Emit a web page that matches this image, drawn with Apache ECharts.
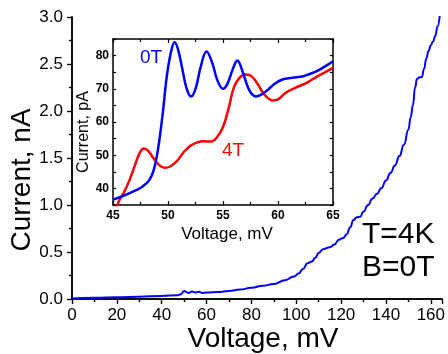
<!DOCTYPE html>
<html>
<head>
<meta charset="utf-8">
<script src="https://cdn.jsdelivr.net/npm/echarts@6/dist/echarts.min.js"></script>
<style>
  html, body { margin: 0; padding: 0; background: #fff; }
  #chart { width: 448px; height: 354px; }
</style>
</head>
<body>
<div id="chart"></div>
<script>
// main I-V curve, B=0T, T=4K (voltage mV, current nA)
const mainVoltage = [0, 10, 20, 30, 40, 47, 48.5, 50, 51, 52, 53.5, 55, 56.5, 58, 60, 65, 70, 75, 80, 85, 90, 95, 99, 101, 103, 105, 107, 108.5, 110, 112, 115, 117, 119, 121, 122.5, 124, 125.5, 127, 128.5, 130, 132, 134, 136, 138, 140, 142, 144, 146, 148, 150, 151, 152, 153, 153.8, 155, 156, 157, 158, 159, 160, 161, 162, 163, 164];
const mainCurrent = [0.005, 0.012, 0.018, 0.025, 0.033, 0.04, 0.05, 0.085, 0.075, 0.065, 0.08, 0.068, 0.078, 0.065, 0.068, 0.074, 0.085, 0.1, 0.12, 0.14, 0.16, 0.2, 0.24, 0.27, 0.32, 0.38, 0.4, 0.44, 0.49, 0.53, 0.55, 0.58, 0.63, 0.65, 0.69, 0.76, 0.84, 0.87, 0.875, 0.93, 1.0, 1.07, 1.12, 1.18, 1.26, 1.34, 1.42, 1.52, 1.64, 1.8, 1.93, 2.06, 2.25, 2.34, 2.36, 2.36, 2.45, 2.56, 2.64, 2.7, 2.74, 2.8, 2.9, 3.02];

// inset, 0T (mV, pA)
const inset0TVoltage = [45, 46, 47, 47.7, 48.3, 48.7, 49.1, 49.5, 49.9, 50.3, 50.6, 50.9, 51.3, 51.7, 52.1, 52.5, 53, 53.5, 54, 54.5, 55, 55.4, 55.9, 56.3, 56.8, 57.4, 58, 58.5, 59, 59.7, 60.4, 61.3, 62.3, 63, 63.8, 64.5, 65];
const inset0TCurrent = [36.6, 37.8, 39.3, 40.6, 42.5, 45.5, 52, 62, 74, 81.5, 84, 82, 76, 70, 67.7, 70, 77, 81.2, 78, 72.5, 70, 71.5, 76, 78.5, 75, 69.5, 67.7, 68.3, 69.5, 71.5, 72.8, 73.3, 73.8, 74.6, 75.8, 77.2, 78.3];

// inset, 4T (mV, pA)
const inset4TVoltage = [45.2, 45.6, 46, 46.5, 47, 47.4, 47.8, 48.2, 48.7, 49.2, 49.7, 50.2, 50.8, 51.4, 52, 52.6, 53.2, 53.9, 54.4, 55, 55.5, 56, 56.5, 57, 57.5, 58, 58.5, 59, 59.5, 60, 60.7, 61.5, 62.6, 63.5, 64.3, 65];
const inset4TCurrent = [33.5, 36.6, 38.8, 42.5, 47, 50.5, 52, 51.3, 49, 47, 46.2, 46.6, 48.2, 50.8, 52.8, 53.8, 54.2, 54.1, 55.2, 58.5, 64, 70.5, 73.3, 74.3, 74, 72.2, 69.5, 67.4, 66.5, 66.8, 68.8, 70.2, 71.8, 73.6, 75, 76.3];

const FONT = 'Liberation Sans, Arial, sans-serif';
const pairs = (xs, ys) => xs.map((x, i) => [x, ys[i]]);

const frameLine = { show: true, lineStyle: { color: '#000', width: 1.5 } };

const chart = echarts.init(document.getElementById('chart'), null, { renderer: 'canvas' });

const option = {
  animation: false,
  backgroundColor: '#fff',
  textStyle: { fontFamily: FONT },
  grid: [
    { left: 72, top: 17, right: 5, bottom: 55 },
    // inset
    { left: 113, top: 39, width: 220, height: 166, show: true, backgroundColor: '#fff', borderWidth: 0 },
  ],
  xAxis: [
    {
      gridIndex: 0, type: 'value', min: 0, max: 165, interval: 20,
      axisLine: frameLine,
      axisTick: { inside: false, length: 5, lineStyle: { width: 1.2 } },
      minorTick: { show: true, splitNumber: 2, length: 3, lineStyle: { color: '#000', width: 1.2 } },
      axisLabel: { fontSize: 17, color: '#000', margin: 8, showMaxLabel: false },
      splitLine: { show: false },
    },
    {
      gridIndex: 0, type: 'value', position: 'top', min: 0, max: 165, interval: 20,
      axisLine: frameLine,
      axisTick: { inside: true, length: 5, lineStyle: { width: 1.2 } },
      minorTick: { show: true, splitNumber: 2, length: 3, lineStyle: { color: '#000', width: 1.2 } },
      axisLabel: { show: false },
      splitLine: { show: false },
    },
    {
      gridIndex: 1, type: 'value', min: 45, max: 65, interval: 5,
      axisLine: frameLine,
      axisTick: { inside: true, length: 4, lineStyle: { width: 1.2 } },
      minorTick: { show: true, splitNumber: 2, length: 3, lineStyle: { color: '#000', width: 1.2 } },
      axisLabel: { fontSize: 12, fontWeight: 'bold', color: '#000', margin: 5 },
      splitLine: { show: false },
    },
    {
      gridIndex: 1, type: 'value', position: 'top', min: 45, max: 65, interval: 5,
      axisLine: frameLine,
      axisTick: { inside: true, length: 4, lineStyle: { width: 1.2 } },
      minorTick: { show: true, splitNumber: 2, length: 3, lineStyle: { color: '#000', width: 1.2 } },
      axisLabel: { show: false },
      splitLine: { show: false },
    },
  ],
  yAxis: [
    {
      gridIndex: 0, type: 'value', min: 0, max: 3, interval: 0.5,
      axisLine: frameLine,
      axisTick: { inside: false, length: 5, lineStyle: { width: 1.2 } },
      minorTick: { show: true, splitNumber: 2, length: 3, lineStyle: { color: '#000', width: 1.2 } },
      axisLabel: { fontSize: 17, color: '#000', margin: 9, formatter: (v) => v.toFixed(1) },
      splitLine: { show: false },
    },
    {
      gridIndex: 0, type: 'value', position: 'right', min: 0, max: 3, interval: 0.5,
      axisLine: frameLine,
      axisTick: { inside: true, length: 5, lineStyle: { width: 1.2 } },
      minorTick: { show: true, splitNumber: 2, length: 3, lineStyle: { color: '#000', width: 1.2 } },
      axisLabel: { show: false },
      splitLine: { show: false },
    },
    {
      // labels only on the tens, ticks every 5
      gridIndex: 1, type: 'value', min: 35, max: 85, interval: 5,
      axisLine: frameLine,
      axisTick: { inside: true, length: 3, lineStyle: { width: 1.2 } },
      axisLabel: {
        fontSize: 12, fontWeight: 'bold', color: '#000', margin: 4,
        formatter: (v) => (v % 10 === 0 ? String(v) : ''),
      },
      splitLine: { show: false },
    },
    {
      gridIndex: 1, type: 'value', position: 'right', min: 35, max: 85, interval: 5,
      axisLine: frameLine,
      axisTick: { inside: true, length: 3, lineStyle: { width: 1.2 } },
      axisLabel: { show: false },
      splitLine: { show: false },
    },
  ],
  series: [
    {
      name: 'B=0T', type: 'line', xAxisIndex: 0, yAxisIndex: 0,
      data: pairs(mainVoltage, mainCurrent),
      showSymbol: false, smooth: 0.5, smoothMonotone: 'x', clip: true,
      lineStyle: { color: '#0000ff', width: 2 },
    },
    {
      name: '0T', type: 'line', xAxisIndex: 2, yAxisIndex: 2,
      data: pairs(inset0TVoltage, inset0TCurrent),
      showSymbol: false, smooth: 0.4, clip: true, z: 5,
      lineStyle: { color: '#0000ff', width: 2.5 },
    },
    {
      name: '4T', type: 'line', xAxisIndex: 2, yAxisIndex: 2,
      data: pairs(inset4TVoltage, inset4TCurrent),
      showSymbol: false, smooth: 0.4, clip: true, z: 4,
      lineStyle: { color: '#ff0000', width: 2.5 },
    },
  ],
  graphic: [
    { type: 'text', x: 22, y: 180, rotation: Math.PI / 2,
      style: { text: 'Current, nA', font: '28px ' + FONT, fill: '#000', align: 'center', verticalAlign: 'middle' } },
    { type: 'text', x: 263, y: 339,
      style: { text: 'Voltage, mV', font: '28px ' + FONT, fill: '#000', align: 'center', verticalAlign: 'middle' } },
    { type: 'text', x: 362, y: 235,
      style: { text: 'T=4K', font: '30px ' + FONT, fill: '#000', align: 'left', verticalAlign: 'middle' } },
    { type: 'text', x: 362, y: 268,
      style: { text: 'B=0T', font: '30px ' + FONT, fill: '#000', align: 'left', verticalAlign: 'middle' } },
    { type: 'text', x: 84, y: 132, rotation: Math.PI / 2, z: 10,
      style: { text: 'Current, pA', font: '16px ' + FONT, fill: '#000', align: 'center', verticalAlign: 'middle' } },
    { type: 'text', x: 227, y: 234, z: 10,
      style: { text: 'Voltage, mV', font: '17px ' + FONT, fill: '#000', align: 'center', verticalAlign: 'middle' } },
    { type: 'text', x: 140, y: 58, z: 10,
      style: { text: '0T', font: '19px ' + FONT, fill: '#0000ff', align: 'left', verticalAlign: 'middle' } },
    { type: 'text', x: 222, y: 151, z: 10,
      style: { text: '4T', font: '19px ' + FONT, fill: '#ff0000', align: 'left', verticalAlign: 'middle' } },
  ],
};

chart.setOption(option);
window.addEventListener('resize', () => chart.resize());
</script>
</body>
</html>
